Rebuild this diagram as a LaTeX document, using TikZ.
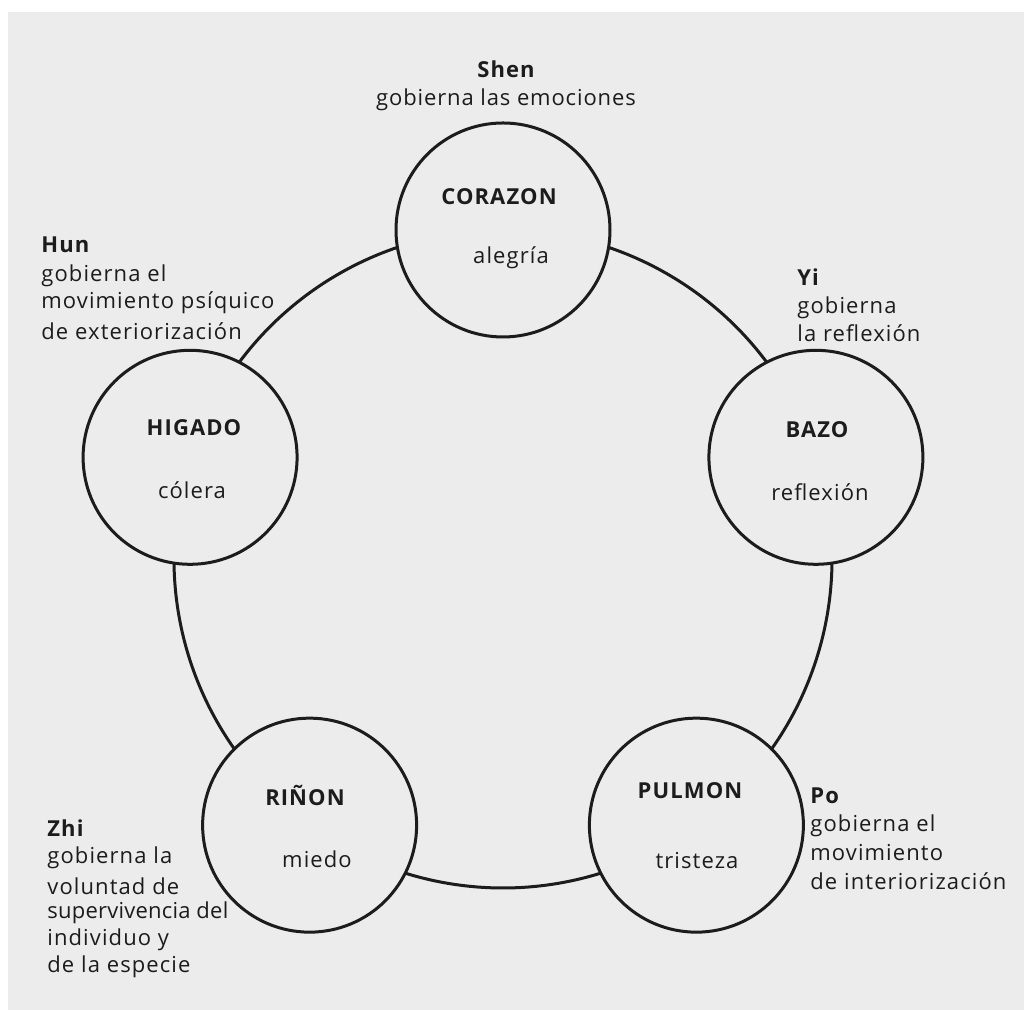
\documentclass[tikz,border=0pt]{standalone}
\usepackage{fontspec}
\setmainfont{Open Sans}[LetterSpace=5]
\usetikzlibrary{calc}
\pgfdeclarelayer{paper}
\pgfdeclarelayer{links}
\pgfsetlayers{paper,links,main}
\definecolor{page}{HTML}{ECECEC}
\definecolor{ink}{HTML}{1C1C1C}
\tikzset{
  organ/.style={circle, draw=ink, line width=1.5pt, fill=page, minimum size=107pt, inner sep=0pt},
  link/.style={draw=ink, line width=1.5pt},
  lbl/.style={text=ink, inner sep=0pt, font=\fontsize{11}{13}\selectfont},
  head/.style={text=ink, inner sep=0pt, font=\fontsize{11}{13}\selectfont\bfseries},
  lft/.style={lbl, anchor=west},
  lfthead/.style={head, anchor=west}
}
\begin{document}
\begin{tikzpicture}[x=0.5pt,y=0.5pt]
\begin{pgfonlayer}{paper}
  \fill[white] (0,0) rectangle (1024,1010);
  \fill[page] (8,0) rectangle (1024,998);
\end{pgfonlayer}
\useasboundingbox (0,0) rectangle (1024,1010);
\coordinate (O) at (503,451);
% organs
\node[organ] (cor) at ($(O)+(90:329)$) {};
\node[organ] (baz) at ($(O)+(18:329)$) {};
\node[organ] (pul) at ($(O)+(-54:329)$) {};
\node[organ] (rin) at ($(O)+(-126:329)$) {};
\node[organ] (hig) at ($(O)+(162:329)$) {};
% connectors
\begin{pgfonlayer}{links}
  \draw[link] (cor.center) arc[start angle=90, end angle=162, radius=164.5pt];
  \draw[link] (hig.center) arc[start angle=162, end angle=234, radius=164.5pt];
  \draw[link] (rin.center) arc[start angle=234, end angle=306, radius=164.5pt];
  \draw[link] (pul.center) arc[start angle=306, end angle=378, radius=164.5pt];
  \draw[link] (baz.center) arc[start angle=18, end angle=90, radius=164.5pt];
\end{pgfonlayer}
% labels inside circles
\node[head] (corN) at (499,813) {CORAZON};
\node[lbl]  (corE) at (511,752) {alegría};
\node[head] (higN) at (194,582) {HIGADO};
\node[lbl]  (higE) at (192,520) {cólera};
\node[head] (bazN) at (817,580) {BAZO};
\node[lbl]  (bazE) at (820,518) {reflexión};
\node[head] (rinN) at (305,215) {RIÑON};
\node[lbl]  (rinE) at (317,151) {miedo};
\node[head] (pulN) at (690,219) {PULMON};
\node[lbl]  (pulE) at (697,149) {tristeza};
% Shen
\node[head] (shen) at (506,941) {Shen};
\node[lbl]  (shenD) at (506,910) {\addfontfeature{LetterSpace=4}gobierna las emociones};
% Hun
\node[lfthead] (hun) at (41,765) {Hun};
\node[lft] (hun1) at (41,734) {gobierna el};
\node[lft] (hun2) at (41,707) {movimiento psíquico};
\node[lft] (hun3) at (41,679) {de exteriorización};
% Yi
\node[lfthead] (yi) at (797,733) {Yi};
\node[lft] (yi1) at (797,702) {gobierna};
\node[lft] (yi2) at (797,677) {la reflexión};
% Po
\node[lfthead] (po) at (810,214) {Po};
\node[lft] (po1) at (810,184) {gobierna el};
\node[lft] (po2) at (810,157) {movimiento};
\node[lft] (po3) at (810,129) {de interiorización};
% Zhi
\node[lfthead] (zhi) at (47,182) {Zhi};
\node[lft] (zhi1) at (47,152) {gobierna la};
\node[lft] (zhi2) at (47,124) {voluntad de};
\node[lft] (zhi3) at (47,97) {\addfontfeature{LetterSpace=1}supervivencia del};
\node[lft] (zhi4) at (47,70) {individuo y};
\node[lft] (zhi5) at (47,43) {de la especie};
\end{tikzpicture}
\end{document}
